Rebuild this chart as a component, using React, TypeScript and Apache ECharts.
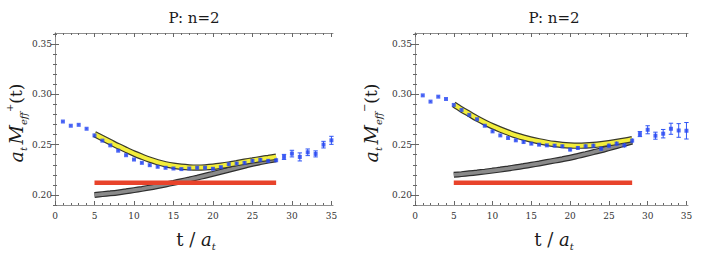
import React, { useEffect, useRef } from "react";
import * as echarts from "echarts";

const T = [1, 2, 3, 4, 5, 6, 7, 8, 9, 10, 11, 12, 13, 14, 15, 16, 17, 18, 19, 20, 21, 22, 23, 24, 25, 26, 27, 28, 29, 30, 31, 32, 33, 34, 35];

const LEFT_V = [0.273, 0.2688, 0.2697, 0.2658, 0.2592, 0.254, 0.2493, 0.244, 0.2395, 0.2352, 0.2319, 0.2296, 0.228, 0.227, 0.2263, 0.2257, 0.2263, 0.227, 0.227, 0.226, 0.2276, 0.2306, 0.2313, 0.2319, 0.2339, 0.2349, 0.2339, 0.2345, 0.2378, 0.2411, 0.2378, 0.2424, 0.2408, 0.25, 0.2543];
const LEFT_E = [0.0004, 0.0004, 0.0004, 0.0005, 0.0006, 0.0006, 0.0007, 0.0007, 0.0008, 0.0008, 0.0009, 0.0009, 0.001, 0.001, 0.001, 0.0011, 0.0011, 0.0012, 0.0012, 0.0013, 0.0013, 0.0014, 0.0015, 0.0015, 0.0016, 0.0017, 0.0018, 0.0019, 0.0025, 0.0033, 0.004, 0.0033, 0.003, 0.0033, 0.004];

const RIGHT_V = [0.299, 0.2928, 0.2977, 0.2954, 0.2895, 0.2845, 0.2796, 0.2753, 0.2688, 0.2632, 0.2592, 0.2566, 0.2543, 0.2526, 0.251, 0.25, 0.2493, 0.249, 0.2484, 0.2451, 0.2467, 0.2484, 0.249, 0.246, 0.249, 0.251, 0.2493, 0.254, 0.2605, 0.2648, 0.2589, 0.2609, 0.2658, 0.2641, 0.2638];
const RIGHT_E = [0.0004, 0.0004, 0.0005, 0.0005, 0.0006, 0.0006, 0.0007, 0.0008, 0.0009, 0.001, 0.001, 0.0011, 0.0011, 0.0012, 0.0012, 0.0013, 0.0014, 0.0015, 0.0016, 0.0018, 0.0018, 0.0019, 0.002, 0.002, 0.0021, 0.0022, 0.0023, 0.0024, 0.0025, 0.004, 0.0035, 0.0042, 0.0055, 0.0068, 0.0082];

const FIT_T = [5, 6, 7, 8, 9, 10, 11, 12, 13, 14, 15, 16, 17, 18, 19, 20, 21, 22, 23, 24, 25, 26, 27, 28];
const LEFT_YELLOW = [0.2605, 0.2565, 0.2525, 0.2485, 0.2448, 0.2412, 0.238, 0.235, 0.2325, 0.2305, 0.229, 0.228, 0.2274, 0.2272, 0.2274, 0.228, 0.229, 0.2302, 0.2316, 0.233, 0.2343, 0.2356, 0.2368, 0.238];
const LEFT_GRAY = [0.2, 0.2008, 0.2016, 0.2025, 0.2036, 0.2048, 0.206, 0.2073, 0.2088, 0.2104, 0.212, 0.2137, 0.2154, 0.2172, 0.2191, 0.221, 0.223, 0.225, 0.227, 0.229, 0.231, 0.2326, 0.2341, 0.2355];
const RIGHT_YELLOW = [0.29, 0.285, 0.2805, 0.276, 0.272, 0.2683, 0.265, 0.262, 0.2593, 0.257, 0.255, 0.2533, 0.2518, 0.2506, 0.2497, 0.2492, 0.249, 0.2492, 0.2497, 0.2505, 0.2515, 0.2527, 0.254, 0.2555];
const RIGHT_GRAY = [0.22, 0.2207, 0.2215, 0.2223, 0.2232, 0.2242, 0.2252, 0.2263, 0.2275, 0.2287, 0.23, 0.2313, 0.2327, 0.2341, 0.2355, 0.237, 0.2388, 0.2406, 0.2425, 0.2444, 0.2465, 0.2486, 0.2508, 0.253];

const PLATEAU_T = [5, 28];
const LEFT_PLATEAU = [0.212, 0.212];
const RIGHT_PLATEAU = [0.212, 0.212];

const X_MAJOR = [0, 5, 10, 15, 20, 25, 30, 35];
const X_MINOR = [1, 2, 3, 4, 6, 7, 8, 9, 11, 12, 13, 14, 16, 17, 18, 19, 21, 22, 23, 24, 26, 27, 28, 29, 31, 32, 33, 34];
const Y_MAJOR = [0.2, 0.25, 0.3, 0.35];
const Y_MINOR = [0.19, 0.21, 0.22, 0.23, 0.24, 0.26, 0.27, 0.28, 0.29, 0.31, 0.32, 0.33, 0.34, 0.36];

const TITLES = ["P: n=2", "P: n=2"];

const SERIF = "DejaVu Serif";
const FRAME = "#8f8f8f";
const TICK = "#666";

function zip(xs: number[], ys: number[]) {
  return xs.map((x, i) => [x, ys[i]]);
}

function xAxes(g: number) {
  const base = { gridIndex: g, type: "value", min: 0, max: 35.2, splitLine: { show: false } };
  return [
    {
      ...base, position: "bottom",
      axisLine: { show: true, lineStyle: { color: FRAME, width: 1 } },
      axisTick: { show: true, inside: true, length: 4, customValues: X_MAJOR, lineStyle: { color: TICK } },
      axisLabel: { show: true, customValues: X_MAJOR, fontFamily: SERIF, fontSize: 9, color: "#333", margin: 6 },
    },
    {
      ...base, position: "bottom",
      axisLine: { show: false },
      axisTick: { show: true, inside: true, length: 2, customValues: X_MINOR, lineStyle: { color: TICK } },
      axisLabel: { show: false },
    },
    {
      ...base, position: "top",
      axisLine: { show: true, lineStyle: { color: FRAME, width: 1 } },
      axisTick: { show: true, inside: true, length: 4, customValues: X_MAJOR, lineStyle: { color: TICK } },
      axisLabel: { show: false },
    },
    {
      ...base, position: "top",
      axisLine: { show: false },
      axisTick: { show: true, inside: true, length: 2, customValues: X_MINOR, lineStyle: { color: TICK } },
      axisLabel: { show: false },
    },
  ];
}

function yAxes(g: number) {
  const base = { gridIndex: g, type: "value", min: 0.19, max: 0.361, splitLine: { show: false } };
  return [
    {
      ...base, position: "left",
      axisLine: { show: true, lineStyle: { color: FRAME, width: 1 } },
      axisTick: { show: true, inside: true, length: 4, customValues: Y_MAJOR, lineStyle: { color: TICK } },
      axisLabel: {
        show: true, customValues: Y_MAJOR, fontFamily: SERIF, fontSize: 9, color: "#333", margin: 3,
        formatter: (v: number) => v.toFixed(2),
      },
    },
    {
      ...base, position: "left",
      axisLine: { show: false },
      axisTick: { show: true, inside: true, length: 2, customValues: Y_MINOR, lineStyle: { color: TICK } },
      axisLabel: { show: false },
    },
    {
      ...base, position: "right",
      axisLine: { show: true, lineStyle: { color: FRAME, width: 1 } },
      axisTick: { show: true, inside: true, length: 4, customValues: Y_MAJOR, lineStyle: { color: TICK } },
      axisLabel: { show: false },
    },
    {
      ...base, position: "right",
      axisLine: { show: false },
      axisTick: { show: true, inside: true, length: 2, customValues: Y_MINOR, lineStyle: { color: TICK } },
      axisLabel: { show: false },
    },
  ];
}

function panelSeries(g: number, vals: number[], errs: number[], yellow: number[], gray: number[], plateau: number[]) {
  const xi = g * 4;
  const yi = g * 4;
  const ax = { xAxisIndex: xi, yAxisIndex: yi };
  const band = (data: number[], color: string, width: number, z: number) => ({
    type: "line", ...ax, data: zip(FIT_T, data), showSymbol: false, symbol: "none", smooth: 0.3,
    lineStyle: { color, width, cap: "butt" }, z, silent: true,
  });
  const errData = T.map((t, i) => [t, vals[i] - errs[i], vals[i] + errs[i]]);
  return [
    band(gray, "#2e2e2e", 6, 2),
    band(gray, "#8a8a8a", 3.6, 3),
    {
      type: "line", ...ax, data: zip(PLATEAU_T, plateau), showSymbol: false, symbol: "none",
      lineStyle: { color: "#e8432b", width: 4.5, cap: "butt" }, z: 4, silent: true,
    },
    band(yellow, "#3a3a2a", 6.4, 5),
    band(yellow, "#f3ee3c", 4, 6),
    {
      type: "custom", ...ax, data: errData, encode: { x: 0, y: [1, 2] }, z: 7, silent: true,
      renderItem: (params: any, api: any) => {
        const x = api.value(0);
        const lo = api.coord([x, api.value(1)]);
        const hi = api.coord([x, api.value(2)]);
        const cw = 2.2;
        const st = { stroke: "#2f55f5", lineWidth: 1 };
        const children: any[] = [
          { type: "line", shape: { x1: lo[0], y1: lo[1], x2: hi[0], y2: hi[1] }, style: st },
        ];
        if (lo[1] - hi[1] > 5) {
          children.push(
            { type: "line", shape: { x1: lo[0] - cw, y1: lo[1], x2: lo[0] + cw, y2: lo[1] }, style: st },
            { type: "line", shape: { x1: hi[0] - cw, y1: hi[1], x2: hi[0] + cw, y2: hi[1] }, style: st },
          );
        }
        return { type: "group", children };
      },
    },
    {
      type: "scatter", ...ax, data: zip(T, vals), symbol: "rect", symbolSize: 4,
      itemStyle: { color: "#2445f2" }, z: 8, silent: true,
    },
  ];
}

function yTitle(x: number, sign: string) {
  return {
    type: "text", x, y: 123, rotation: Math.PI / 2,
    style: {
      text: `{i|a}{s|t}{sp| }{i|M}{s|eff}{p|${sign}}{n|(t)}`,
      align: "center", verticalAlign: "middle", fill: "#222",
      rich: {
        i: { fontFamily: SERIF, fontStyle: "italic", fontSize: 19, lineHeight: 24, fill: "#1a1a1a" },
        n: { fontFamily: SERIF, fontSize: 17, lineHeight: 24, fill: "#1a1a1a" },
        sp: { fontFamily: SERIF, fontSize: 8, lineHeight: 24, fill: "#1a1a1a" },
        s: { fontFamily: SERIF, fontStyle: "italic", fontSize: 10, lineHeight: 12, verticalAlign: "bottom", fill: "#1a1a1a" },
        p: { fontFamily: SERIF, fontSize: 10, lineHeight: 12, verticalAlign: "top", fill: "#1a1a1a" },
      },
    },
  };
}

function xTitle(x: number) {
  return {
    type: "text", x, y: 239,
    style: {
      text: "{n|t / }{i|a}{s|t}",
      align: "center", verticalAlign: "middle", fill: "#222",
      rich: {
        n: { fontFamily: SERIF, fontSize: 18, lineHeight: 24, fill: "#1a1a1a" },
        i: { fontFamily: SERIF, fontStyle: "italic", fontSize: 18, lineHeight: 24, fill: "#1a1a1a" },
        s: { fontFamily: SERIF, fontStyle: "italic", fontSize: 10, lineHeight: 12, verticalAlign: "bottom", fill: "#1a1a1a" },
      },
    },
  };
}

function title(x: number, text: string) {
  return {
    type: "text", x, y: 18,
    style: { text, align: "center", verticalAlign: "middle", fontFamily: SERIF, fontSize: 15, fill: "#1a1a1a" },
  };
}

export default function App() {
  const ref = useRef<HTMLDivElement>(null);
  useEffect(() => {
    document.body.style.margin = "0";
    if (!ref.current) return;
    const chart = echarts.init(ref.current, undefined, { renderer: "svg" });
    chart.setOption({
      animation: false,
      backgroundColor: "#ffffff",
      textStyle: { fontFamily: SERIF },
      grid: [
        { left: 55, top: 33, width: 278, height: 172, containLabel: false },
        { left: 415, top: 33, width: 273, height: 172, containLabel: false },
      ],
      xAxis: [...xAxes(0), ...xAxes(1)],
      yAxis: [...yAxes(0), ...yAxes(1)],
      series: [
        ...panelSeries(0, LEFT_V, LEFT_E, LEFT_YELLOW, LEFT_GRAY, LEFT_PLATEAU),
        ...panelSeries(1, RIGHT_V, RIGHT_E, RIGHT_YELLOW, RIGHT_GRAY, RIGHT_PLATEAU),
      ],
      graphic: [
        title(194, TITLES[0]),
        title(554, TITLES[1]),
        yTitle(16, "+"),
        yTitle(371, "\u2212"),
        xTitle(196),
        xTitle(554),
      ],
    });
    return () => chart.dispose();
  }, []);
  return <div ref={ref} style={{ width: 708, height: 253 }} />;
}
